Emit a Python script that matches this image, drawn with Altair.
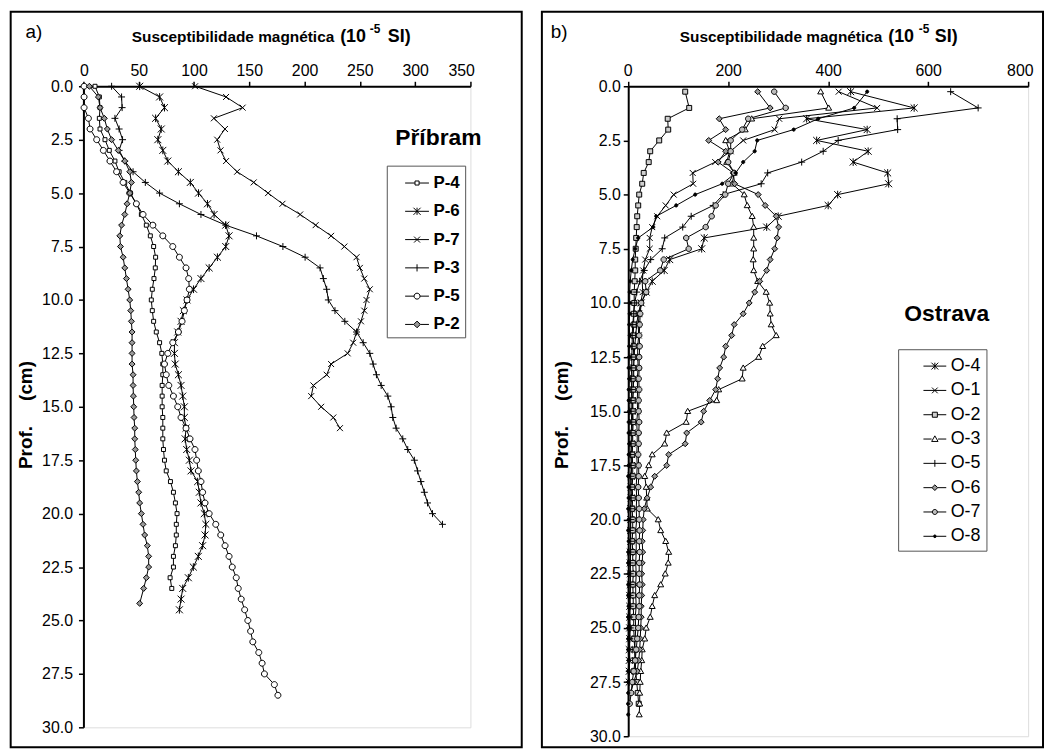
import altair as alt
import pandas as pd

FONT = "Liberation Sans"

# ---------------- Panel a : Příbram ----------------
DEPTH_A = [0.0, 0.5, 1.0, 1.5, 2.0, 2.5, 3.0, 3.5, 4.0, 4.5, 5.0, 5.5, 6.0, 6.5, 7.0, 7.5,
           8.0, 8.5, 9.0, 9.5, 10.0, 10.5, 11.0, 11.5, 12.0, 12.5, 13.0, 13.5, 14.0, 14.5,
           15.0, 15.5, 16.0, 16.5, 17.0, 17.5, 18.0, 18.5, 19.0, 19.5, 20.0, 20.5, 21.0, 21.5,
           22.0, 22.5, 23.0, 23.5, 24.0, 24.5, 25.0, 25.5, 26.0, 26.5, 27.0, 27.5, 28.0, 28.5]
SERIES_A = ["P-4", "P-6", "P-7", "P-3", "P-5", "P-2"]

P4 = [10.5, 14.4, 15, 14.4, 15, 19.5, 23.4, 28.5, 32.3, 37.4, 42.5, 47.9, 52.4, 56.9, 60.5,
      63.5, 65.3, 65, 63.8, 62.3, 61.4, 62.3, 63.5, 65.9, 68.9, 70.9, 71.8, 71.8, 71.2, 71.2,
      71.2, 71.8, 71.8, 71.8, 72.4, 73.3, 74.9, 78.7, 81.4, 83.2, 84.7, 84, 84, 83.2, 81.4,
      81.4, 78.4, 79.9]
P6 = [50.9, 68.9, 73.3, 65.3, 70.4, 67.3, 71.8, 76.3, 85.9, 96.7, 104.1, 112.2, 118.2, 128.7,
      131.7, 128.7, 121.2, 113.7, 106.3, 99.6, 93.7, 90.4, 88.3, 85.3, 82.3, 82.3, 83, 85.9,
      88.3, 89.8, 91.3, 91.3, 92.8, 92, 93.4, 95.8, 97.3, 103.3, 104.8, 106.3, 109.3, 110.7,
      110, 107.8, 103.9, 99.4, 94.9, 89.8, 88.3, 86.8]
P7 = [101, 129, 144, 118, 128, 121, 124, 129, 139, 154, 167, 180, 196, 210, 224, 236, 247,
      250, 254, 259, 256, 254, 251, 247, 244, 239, 224, 220, 208, 206, 215, 226, 232]
P3 = [25.5, 34.5, 35, 28.5, 32.3, 35.4, 32.3, 37.4, 44.9, 56, 68.9, 86.8, 106.3, 128.7, 156.5,
      180.4, 200.5, 214, 217, 220, 221.5, 227.5, 236.4, 247, 253, 259, 262, 265, 269.3, 275.3,
      278.3, 279.8, 282.8, 288.8, 293.3, 299.3, 302.2, 305.2, 308.3, 311.2, 315.7, 324.7]
P5 = [0.6, 0.6, 0.6, 4.5, 6, 12, 18, 24, 30, 35.9, 41.9, 47.9, 53.9, 62.8, 71.8, 80.8, 86.8,
      92.8, 95.2, 95.8, 93.7, 91.3, 89.2, 85.9, 80.8, 76.3, 73.3, 74.9, 77.2, 81.4, 85.3, 88.3,
      92.8, 96.4, 100.9, 102.4, 103.9, 106.3, 107.8, 110, 113.7, 119.7, 124.2, 128.1, 131.7,
      134.6, 138.2, 140, 142.7, 145.8, 148.7, 151.2, 153.2, 158.6, 161.6, 163.7, 172.7, 175.9]
P2 = [5.4, 13.5, 15, 18.9, 21.6, 25.5, 31.5, 37.4, 41.9, 43.4, 41.9, 39.5, 37.4, 34.5, 32.9,
      33.5, 35.9, 37.4, 38.9, 40.4, 41.9, 42.8, 43.4, 44, 44, 44, 44, 44.9, 44.9, 45.2, 45.5,
      45.8, 46.4, 46.4, 46.9, 47.3, 47.9, 48.8, 50, 50.9, 52.4, 53.9, 55.4, 57.8, 59, 59, 56.9,
      54.5, 50.9]
P2_DEPTH = DEPTH_A[:48] + [24.2]

# ---------------- Panel b : Ostrava ----------------
DEPTH_B = [0.25, 1.0, 1.5, 2.0, 2.5, 3.0, 3.5, 4.0, 4.5, 5.0, 5.5, 6.0, 6.5, 7.0, 7.5, 8.0,
           8.5, 9.0, 9.5, 10.0, 10.5, 11.0, 11.5, 12.0, 12.5, 13.0, 13.5, 14.0, 14.5, 15.0,
           15.5, 16.0, 16.5, 17.0, 17.5, 18.0, 18.5, 19.0, 19.5, 20.0, 20.5, 21.0, 21.5, 22.0,
           22.5, 23.0, 23.5, 24.0, 24.5, 25.0, 25.5, 26.0, 26.5, 27.0, 27.5, 28.0, 28.5, 29.0]
SERIES_B = ["O-4", "O-1", "O-2", "O-3", "O-5", "O-6", "O-7", "O-8"]

O4 = [445, 572, 357, 478, 377, 480, 450, 519, 521, 419, 400, 300, 277, 152, 147, 83, 72, 48,
      36, 26, 20, 17, 15, 13, 12, 11, 11, 10, 9, 9, 8, 8, 7, 7, 7, 6, 6, 6, 5, 5, 5, 5, 4, 4,
      4, 4, 3, 3, 3, 3, 3, 2, 2, 2, 2]
O1 = [421, 498, 302, 293, 230, 205, 174, 129, 130, 91, 75, 58, 48, 43, 43, 34, 30, 28, 29, 25,
      22, 20, 21, 19, 19, 20, 18, 19, 18, 19, 17, 18, 18, 17, 18, 17, 16, 17, 16, 17, 15, 16,
      16, 15, 16, 15, 15, 16, 14, 15, 14, 13, 14, 13]
O2 = [114, 122, 79, 80, 62, 44, 41, 31, 28, 22, 20, 18, 17, 16, 15, 14, 14, 13, 12, 12, 11,
      11, 10, 11, 10, 10, 9, 10, 9, 9, 10, 9, 9, 8, 9, 9, 8, 9, 8, 9, 9, 8, 9, 9, 10, 9, 10,
      10, 11, 11, 12, 13, 14, 15, 17, 19, 21]
O3 = [385, 401, 247, 234, 195, 203, 197, 212, 208, 232, 238, 248, 251, 251, 251, 250, 251,
      259, 276, 283, 284, 286, 296, 269, 261, 230, 228, 181, 177, 119, 116, 77, 73, 48, 41,
      33, 36, 37, 38, 60, 65, 75, 81, 80, 74, 65, 53, 48, 44, 36, 33, 28, 27, 25, 24, 23, 23, 22]
O5 = [645, 700, 538, 539, 420, 390, 347, 279, 266, 190, 170, 126, 109, 73, 68, 45, 32, 23, 17,
      13, 11, 9, 8, 8, 7, 7, 6, 7, 6, 6, 7, 6, 6, 5, 6, 5, 5, 6, 5, 5, 4, 5, 5, 4, 4, 5, 4, 4,
      3, 4, 3, 3, 3, 2]
O6 = [259, 284, 182, 195, 161, 195, 180, 210, 213, 260, 274, 296, 301, 298, 293, 284, 277, 263,
      253, 242, 230, 212, 207, 195, 191, 183, 179, 175, 163, 151, 146, 117, 114, 81, 77, 53, 45,
      38, 32, 30, 29, 28, 29, 28, 27, 28, 27, 26, 26, 25, 24, 23, 21, 18, 11, 5]
O7 = [292, 315, 240, 228, 205, 205, 200, 212, 200, 194, 175, 167, 155, 116, 121, 71, 64, 34,
      36, 26, 24, 23, 22, 23, 22, 22, 21, 22, 21, 21, 22, 21, 21, 20, 21, 21, 20, 21, 22, 22,
      23, 22, 23, 22, 22, 23, 22, 22, 21, 20, 18, 16, 14, 11, 8, 6, 3]
O8 = [478, 452, 380, 331, 258, 253, 230, 215, 188, 134, 96, 56, 50, 20, 14, 9, 6, 4, 3, 3,
      3, 2, 3, 2, 2, 1, 2, 1, 1, 2, 1, 1, 2, 1, 1, 0, 1, 1, 0, 1, 0, 1, 0, 0, 1, 0, 0, 1, 0, 0,
      0, 0, 1, 0, 0, 0, 0, 0]

X_TICKS_A = [0, 50, 100, 150, 200, 250, 300, 350]
X_TICKS_B = [0, 200, 400, 600, 800]
Y_TICKS = [0, 2.5, 5, 7.5, 10, 12.5, 15, 17.5, 20, 22.5, 25, 27.5, 30]

# marker shapes (custom paths in the -1..1 box)
SQUARE = "M-1,-1H1V1H-1Z"
CIRCLE = "M1,0A1,1,0,1,1,-1,0A1,1,0,1,1,1,0Z"
DIAMOND = "M0,-1L1,0L0,1L-1,0Z"
TRIANGLE = "M0,-1L1,0.75L-1,0.75Z"
XMARK = "M-1,-1L1,1M-1,1L1,-1"
PLUS = "M-1,0H1M0,-1V1"
STAR = "M-1,-1L1,1M-1,1L1,-1M0,-1.1V1.1"


def leg_path(kind, r):
    """legend symbol: short line with the marker in the middle"""
    s = f"{r:.2f}"
    m = f"-{s}"
    if kind == "square":
        return f"M-1,0H{m}M{s},0H1M{m},{m}H{s}V{s}H{m}Z"
    if kind == "circle":
        return f"M-1,0H{m}M{s},0H1M{s},0A{s},{s},0,1,1,{m},0A{s},{s},0,1,1,{s},0Z"
    if kind == "diamond":
        return f"M-1,0H{m}M{s},0H1M0,{m}L{s},0L0,{s}L{m},0Z"
    if kind == "triangle":
        return f"M-1,0H{m}M{s},0H1M0,{m}L{s},{r*0.75:.2f}L{m},{r*0.75:.2f}Z"
    if kind == "x":
        return f"M-1,0H1M{m},{m}L{s},{s}M{m},{s}L{s},{m}"
    if kind == "plus":
        return f"M-1,0H1M0,{m}V{s}"
    if kind == "star":
        return f"M-1,0H1M{m},{m}L{s},{s}M{m},{s}L{s},{m}M0,{m}V{s}"
    return ""


def make_df(series_names, values, depths):
    rows = []
    for name, vals, dep in zip(series_names, values, depths):
        for d, v in zip(dep, vals):
            rows.append({"series": name, "depth": d, "value": v})
    return pd.DataFrame(rows)


df_a = make_df(SERIES_A, [P4, P6, P7, P3, P5, P2],
               [DEPTH_A, DEPTH_A, DEPTH_A, DEPTH_A, DEPTH_A, P2_DEPTH])
df_b = make_df(SERIES_B, [O4, O1, O2, O3, O5, O6, O7, O8], [DEPTH_B] * 8)


def txt(s, x, y, size, weight="normal", align="left", baseline="alphabetic", angle=0):
    return alt.Chart(pd.DataFrame({"t": [s]})).mark_text(
        font=FONT, fontSize=size, fontWeight=weight, align=align, baseline=baseline,
        angle=angle, color="black"
    ).encode(text="t:N", x=alt.value(x), y=alt.value(y))


def border(x1, y1, x2, y2):
    return alt.Chart(pd.DataFrame({"k": [0]})).mark_rect(
        fill="white", fillOpacity=0, stroke="black", strokeWidth=2
    ).encode(x=alt.value(x1), x2=alt.value(x2), y=alt.value(y1), y2=alt.value(y2))


def panel(df, series, shapes, fills, sizes, leg_shapes, leg_fills, xmax, xticks, w, h,
          ylab_pad, flush_off, leg_x, leg_y, leg_font, leg_weight, leg_row_pad, leg_sym,
          leg_off, texts, box):
    xenc = alt.X("value:Q", scale=alt.Scale(domain=[0, xmax], nice=False, zero=False),
                 axis=alt.Axis(orient="top", values=xticks, title=None, grid=False,
                               labelFont=FONT, labelFontSize=16, labelColor="black",
                               labelFlush=True, labelFlushOffset=flush_off,
                               labelOverlap=False, labelPadding=3,
                               domainColor="black", domainWidth=2, tickColor="black",
                               tickWidth=1.5, tickSize=5))
    yenc = alt.Y("depth:Q", scale=alt.Scale(domain=[0, 30], reverse=True, nice=False, zero=False),
                 axis=alt.Axis(values=Y_TICKS, format=".1f", title=None, grid=False,
                               labelFont=FONT, labelFontSize=16, labelColor="black",
                               labelFlush=False, labelOverlap=False, labelPadding=ylab_pad,
                               domainColor="black", domainWidth=2, tickColor="black",
                               tickWidth=1.5, tickSize=5))
    base = alt.Chart(df).encode(x=xenc, y=yenc, detail="series:N", order="depth:Q")
    lines = base.mark_line(color="black", strokeWidth=1)
    point_layers = []
    for name, shp, fc, sz in zip(series, shapes, fills, sizes):
        point_layers.append(
            base.transform_filter(alt.datum.series == name).mark_point(
                shape=shp, size=sz, filled=True, fill=fc, stroke="black",
                strokeWidth=1, opacity=1)
        )
    lg = dict(orient="none", legendX=leg_x, legendY=leg_y, title=None,
              labelFont=FONT, labelFontSize=leg_font, labelFontWeight=leg_weight,
              labelColor="black", labelOffset=4, symbolSize=leg_sym,
              symbolStrokeColor="black", symbolStrokeWidth=1, symbolOffset=leg_off,
              strokeColor="#555555", fillColor="white", padding=5, rowPadding=leg_row_pad)
    legend_layer = alt.Chart(pd.DataFrame({"series": series})).transform_filter("false").mark_point(
        filled=True, strokeWidth=1, opacity=1
    ).encode(
        shape=alt.Shape("series:N", scale=alt.Scale(domain=series, range=leg_shapes),
                        legend=alt.Legend(**lg)),
        fill=alt.Fill("series:N", scale=alt.Scale(domain=series, range=leg_fills),
                      legend=alt.Legend(**lg)),
        stroke=alt.Stroke("series:N", scale=alt.Scale(domain=series, range=["black"] * len(series)),
                          legend=alt.Legend(**lg)),
    )
    layers = [border(*box), lines] + point_layers + [legend_layer] + texts
    return alt.layer(*layers).properties(width=w, height=h)


texts_a = [
    txt("a)", -58.3, -49, 19),
    txt("Susceptibilidade magnética", 48.7, -45, 15.5, "bold"),
    txt("(10", 258.7, -45, 18, "bold"),
    txt("-5", 288.5, -54, 12, "bold"),
    txt("SI)", 306.7, -45, 18, "bold"),
    txt("Příbram", 357.7, 59, 23, "bold", align="center"),
    txt("Prof.", -58.3, 364, 19, "bold", align="center", baseline="middle", angle=270),
    txt("(cm)", -58.3, 297, 19, "bold", align="center", baseline="middle", angle=270),
]
texts_b = [
    txt("b)", -78, -49, 19),
    txt("Susceptibilidade magnética", 52, -45, 15.5, "bold"),
    txt("(10", 262, -45, 18, "bold"),
    txt("-5", 292.8, -54, 12, "bold"),
    txt("SI)", 309, -45, 18, "bold"),
    txt("Ostrava", 321, 237, 23, "bold", align="center"),
    txt("Prof.", -67, 364, 19, "bold", align="center", baseline="middle", angle=270),
    txt("(cm)", -67, 297, 19, "bold", align="center", baseline="middle", angle=270),
]

panel_a = panel(
    df_a, SERIES_A,
    shapes=[SQUARE, STAR, XMARK, PLUS, CIRCLE, DIAMOND],
    fills=["white", "white", "white", "white", "white", "#9a9a9a"],
    sizes=[16, 49, 36, 49, 36, 36],
    leg_shapes=[leg_path("square", 0.17), leg_path("star", 0.3), leg_path("x", 0.25),
                leg_path("plus", 0.3), leg_path("circle", 0.25), leg_path("diamond", 0.28)],
    leg_fills=["white", "white", "white", "white", "white", "#9a9a9a"],
    xmax=350, xticks=X_TICKS_A, w=390, h=646, ylab_pad=6, flush_off=4,
    leg_x=305.7, leg_y=80, leg_font=17, leg_weight="bold", leg_row_pad=7.5, leg_sym=576,
    leg_off=13, texts=texts_a, box=(-73.3, -75, 441.7, 666),
)

panel_b = panel(
    df_b, SERIES_B,
    shapes=[STAR, XMARK, SQUARE, TRIANGLE, PLUS, DIAMOND, CIRCLE, CIRCLE],
    fills=["white", "white", "#cfcfcf", "white", "white", "#9a9a9a", "#bdbdbd", "black"],
    sizes=[49, 36, 25, 36, 49, 36, 30, 10],
    leg_shapes=[leg_path("star", 0.3), leg_path("x", 0.25), leg_path("square", 0.22),
                leg_path("triangle", 0.28), leg_path("plus", 0.3), leg_path("diamond", 0.25),
                leg_path("circle", 0.22), leg_path("circle", 0.12)],
    leg_fills=["white", "white", "#cfcfcf", "white", "white", "#9a9a9a", "#bdbdbd", "black"],
    xmax=800, xticks=X_TICKS_B, w=403, h=655, ylab_pad=3, flush_off=5,
    leg_x=272, leg_y=265, leg_font=18, leg_weight="normal", leg_row_pad=3.5, leg_sym=529,
    leg_off=20, texts=texts_b, box=(-87, -75, 418, 666),
)

chart = alt.hconcat(panel_a, panel_b, spacing=16).resolve_scale(
    shape="independent", fill="independent", stroke="independent"
).resolve_legend(
    shape="independent", fill="independent", stroke="independent"
).properties(
    padding={"left": 1, "top": -1, "right": 0, "bottom": 0}
).configure_view(stroke=None).configure(font=FONT)

chart.save("out.html", embed_options={"renderer": "svg", "actions": False})
